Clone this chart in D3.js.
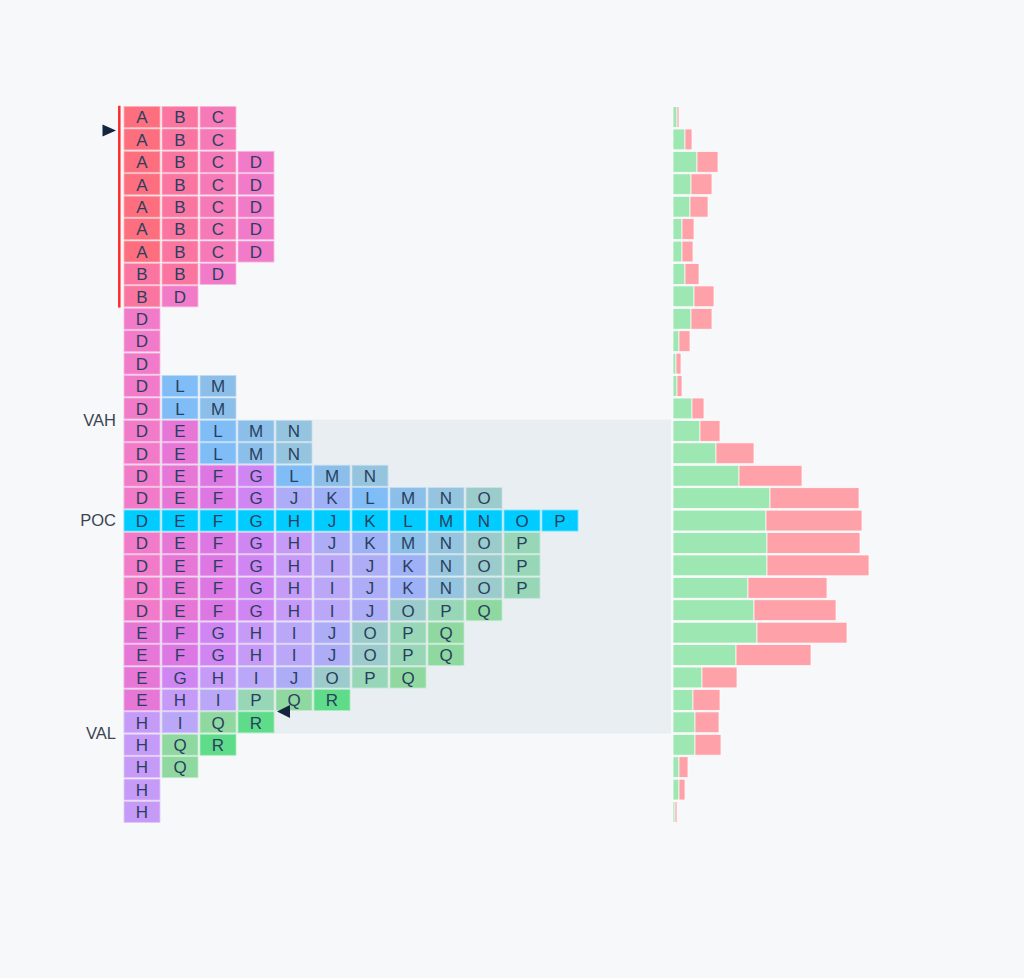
<!DOCTYPE html>
<html>
<head>
<meta charset="utf-8">
<script src="https://cdn.jsdelivr.net/npm/d3@7"></script>
<style>
  body { margin: 0; background: #f7f8fa; }
  svg { display: block; font-family: "Liberation Sans", Arial, sans-serif; }
</style>
</head>
<body>
<div id="chart"></div>
<script>
// price levels, top to bottom
var prices = [4527.75, 4527.50, 4527.25, 4527.00, 4526.75, 4526.50, 4526.25, 4526.00,
              4525.75, 4525.50, 4525.25, 4525.00, 4524.75, 4524.50, 4524.25, 4524.00,
              4523.75, 4523.50, 4523.25, 4523.00, 4522.75, 4522.50, 4522.25, 4522.00,
              4521.75, 4521.50, 4521.25, 4521.00, 4520.75, 4520.50, 4520.25, 4520.00];

// TPO letters per price level
var tpo = ["ABC", "ABC", "ABCD", "ABCD", "ABCD", "ABCD", "ABCD", "BBD", "BD",
           "D", "D", "D", "DLM", "DLM", "DELMN", "DELMN", "DEFGLMN",
           "DEFGJKLMNO", "DEFGHJKLMNOP", "DEFGHJKMNOP", "DEFGHIJKNOP", "DEFGHIJKNOP",
           "DEFGHIJOPQ", "EFGHIJOPQ", "EFGHIJOPQ", "EGHIJOPQ", "EHIPQR", "HIQR",
           "HQR", "HQ", "H", "H"];

// volume per level
var buyVol  = [4, 12, 24, 18, 17, 9, 9, 12, 21, 18, 6, 3, 4, 19, 27, 43, 66,
               97, 93, 94, 94, 75, 81, 84, 63, 29, 20, 22, 22, 6, 6, 2];
var sellVol = [2, 7, 21, 21, 18, 12, 11, 14, 20, 21, 11, 5, 5, 12, 20, 38, 63,
               89, 96, 93, 102, 79, 82, 90, 75, 35, 27, 24, 26, 9, 6, 2];

var periods = "ABCDEFGHIJKLMNOPQR".split("");
var periodColors = ["#fd6f7f", "#fa76a0", "#f67ab8", "#f27bc9", "#e777d7", "#dd77e4",
                    "#cf86f3", "#c69bf7", "#baa7f8", "#adacf6", "#9fb1f6", "#80bdf7",
                    "#8bbfe9", "#95c4df", "#9ccbcb", "#98d6b8", "#8fd9a1", "#5fdc8a"];

var poc = 4523.25, vah = 4524.25, val = 4521.00;
var ibHigh = 4527.75, ibLow = 4525.75;
var openPrice = 4527.60, closePrice = 4521.12;

var width = 1024, height = 978;

var svg = d3.select("#chart")
    .append("svg")
    .attr("width", width)
    .attr("height", height);

// scales
var y = d3.scaleLinear()
    .domain([prices[0], prices[prices.length - 1]])
    .range([117, 812]);
var rowH = Math.abs(y(prices[1]) - y(prices[0]));

var maxCols = d3.max(tpo, function(d) { return d.length; });
var x = d3.scaleLinear()
    .domain([0, maxCols])
    .range([123, 123 + maxCols * 38]);
var colW = x(1) - x(0);

var color = d3.scaleOrdinal().domain(periods).range(periodColors);

var volX0 = 673;
var vx = d3.scaleLinear()
    .domain([0, d3.max(buyVol, function(d, i) { return d + sellVol[i]; })])
    .range([0, 196]);

// ---- VALUE AREA ---- //
svg.append("rect")
    .attr("x", x(0))
    .attr("y", y(vah) - rowH / 2)
    .attr("width", volX0 - 2 - x(0))
    .attr("height", y(val) - y(vah) + rowH)
    .attr("fill", "#e9eef2");

// ---- TPO CELLS ---- //
var cells = [];
tpo.forEach(function(s, i) {
  s.split("").forEach(function(ch, j) {
    cells.push({ price: prices[i], col: j, letter: ch });
  });
});

var cellG = svg.selectAll(".cell")
    .data(cells)
    .enter().append("g")
    .attr("class", "cell");

cellG.append("rect")
    .attr("x", function(d) { return x(d.col) + 1; })
    .attr("y", function(d) { return y(d.price) - rowH / 2 + 0.7; })
    .attr("width", colW - 2)
    .attr("height", rowH - 1.4)
    .attr("fill", function(d) { return d.price === poc ? "#00ccff" : color(d.letter); })
    .attr("stroke", function(d) {
        var c = d.price === poc ? "#00ccff" : color(d.letter);
        return d3.interpolateRgb(c, "#ffffff")(0.45);
    })
    .attr("stroke-width", 0.8);

cellG.append("text")
    .attr("x", function(d) { return x(d.col) + colW / 2; })
    .attr("y", function(d) { return y(d.price); })
    .attr("dy", "0.37em")
    .attr("text-anchor", "middle")
    .attr("font-size", 17)
    .attr("fill", "#2a3f5f")
    .text(function(d) { return d.letter; });

// ---- INITIAL BALANCE LINE ---- //
svg.append("line")
    .attr("x1", 119.3).attr("x2", 119.3)
    .attr("y1", y(ibHigh) - rowH / 2)
    .attr("y2", y(ibLow) + rowH / 2)
    .attr("stroke", "#ff2a2a")
    .attr("stroke-width", 2.5);

// ---- OPEN / CLOSE MARKERS ---- //
var oy = y(openPrice);
svg.append("path")
    .attr("d", "M102.5," + (oy - 6) + "L116," + oy + "L102.5," + (oy + 6) + "Z")
    .attr("fill", "#14253d");

var closeRow = Math.ceil((prices[0] - closePrice) / 0.25);
var cx = x(tpo[closeRow].length) + 2, cy = y(closePrice);
svg.append("path")
    .attr("d", "M" + cx + "," + cy + "L" + (cx + 13) + "," + (cy - 6.5) + "L" + (cx + 13) + "," + (cy + 6.5) + "Z")
    .attr("fill", "#14253d");

// ---- LABELS ---- //
var labels = [
  { text: "VAH", yy: y(vah) - rowH / 2 },
  { text: "POC", yy: y(poc) },
  { text: "VAL", yy: y(val) + rowH / 2 }
];
svg.selectAll(".lvl")
    .data(labels)
    .enter().append("text")
    .attr("class", "lvl")
    .attr("x", 116)
    .attr("y", function(d) { return d.yy; })
    .attr("dy", "0.36em")
    .attr("text-anchor", "end")
    .attr("font-size", 16.5)
    .attr("fill", "#3b4452")
    .text(function(d) { return d.text; });

// ---- VOLUME PROFILE ---- //
var vol = svg.selectAll(".vol")
    .data(prices)
    .enter().append("g")
    .attr("class", "vol");

vol.append("rect")
    .attr("x", volX0)
    .attr("y", function(d) { return y(d) - rowH / 2 + 0.8; })
    .attr("width", function(d, i) { return vx(buyVol[i]); })
    .attr("height", rowH - 1.6)
    .attr("fill", "#9de7b2")
    .attr("stroke", "#ffffff")
    .attr("stroke-width", 0.7);

vol.append("rect")
    .attr("x", function(d, i) { return volX0 + vx(buyVol[i]); })
    .attr("y", function(d) { return y(d) - rowH / 2 + 0.8; })
    .attr("width", function(d, i) { return vx(sellVol[i]); })
    .attr("height", rowH - 1.6)
    .attr("fill", "#ffa1a9")
    .attr("stroke", "#ffffff")
    .attr("stroke-width", 0.7);
</script>
</body>
</html>
